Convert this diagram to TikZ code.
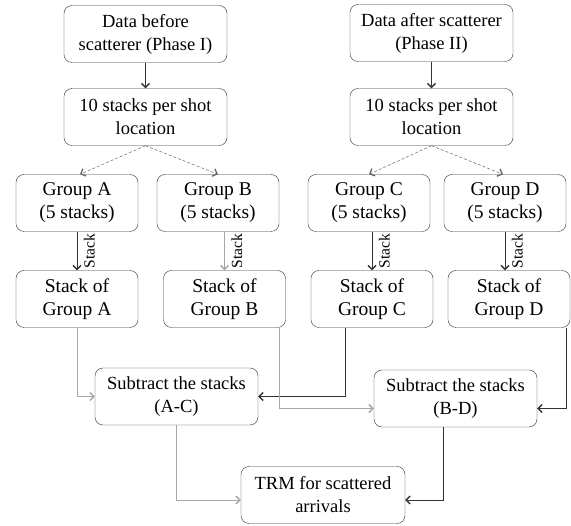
\documentclass[tikz,border=0pt]{standalone}
\usepackage{fontspec}
\setmainfont{Liberation Serif}
\usetikzlibrary{arrows.meta,calc}

\tikzset{
	box/.style={draw=black!80, rounded corners=8pt, align=center, minimum width=163pt, minimum height=57pt, inner sep=2pt, font=\fontsize{18.5}{23}\selectfont},
	grp/.style={box, minimum width=122pt, font=\fontsize{19.5}{23}\selectfont},
	arr/.style={draw=black!80, line width=0.7pt, -{Straight Barb[length=4pt,width=8pt,line width=1.3pt]}},
	split/.style={arr, draw=black!60, line width=0.5pt, densely dashed},
	faint/.style={draw=black!35},
	lbl/.style={font=\fontsize{15.5}{15.5}\selectfont, rotate=90, anchor=north, inner sep=6.5pt}
}

\begin{document}
\begin{tikzpicture}[x=1pt, y=-1pt]
			\useasboundingbox (0,0) rectangle (571,526);

			% Phase boxes
			\node[box] (before) at (145.5,34) {Data before\\scatterer (Phase I)};
			\node[box] (after) at (431.5,33) {Data after scatterer\\(Phase II)};
			\node[box] (tenL) at (145.5,117) {10 stacks per shot\\location};
			\node[box] (tenR) at (431.5,117) {10 stacks per shot\\location};

			% Groups
			\node[grp] (grpA) at (77,203) {Group A\\(5 stacks)};
			\node[grp] (grpB) at (218,203) {Group B\\(5 stacks)};
			\node[grp] (grpC) at (369,203) {Group C\\(5 stacks)};
			\node[grp] (grpD) at (505,203) {Group D\\(5 stacks)};

			% Stacked groups
			\node[grp] (stkA) at (77,299) {Stack of\\Group A};
			\node[grp] (stkB) at (224.5,299) {Stack of\\Group B};
			\node[grp] (stkC) at (372,299) {Stack of\\Group C};
			\node[grp] (stkD) at (509,299) {Stack of\\Group D};

			% Subtraction and TRM
			\node[box] (subAC) at (176.5,396.5) {Subtract the stacks\\(A-C)};
			\node[box] (subBD) at (455.5,398.5) {Subtract the stacks\\(B-D)};
			\node[box, minimum width=164pt] (trm) at (323,495) {TRM for scattered\\arrivals};

			% Arrows
			\draw[arr] (before) -- (tenL);
			\draw[arr] (after) -- (tenR);
			\draw[split] (tenL.south) -- ([xshift=3pt]grpA.north);
			\draw[split] (tenL.south) -- (grpB.north);
			\draw[split] (tenR.south) -- (grpC.north);
			\draw[split] (tenR.south) -- ([xshift=-2pt]grpD.north);

			\draw[arr] (grpA.south) -- (grpA.south |- stkA.north) node[lbl, midway] {Stack};
			\draw[arr, faint] (stkB.north |- grpB.south) -- (stkB.north) node[lbl, midway] {Stack};
			\draw[arr] (stkC.north |- grpC.south) -- (stkC.north) node[lbl, midway] {Stack};
			\draw[arr] (grpD.south) -- (grpD.south |- stkD.north) node[lbl, midway] {Stack};

			\draw[arr, faint] (stkA.south) |- (subAC.west);
			\draw[arr] ([xshift=-27pt]stkC.south) |- (subAC.east);
			\draw[arr, faint] ([xshift=55pt]stkB.south) |- ([yshift=-10pt]subBD.west);
			\draw[arr] ([xshift=57pt]stkD.south) |- ([yshift=-10pt]subBD.east);

			\draw[arr, faint] (subAC.south) |- ([yshift=-5pt]trm.west);
			\draw[arr] ([xshift=-12pt]subBD.south) |- ([yshift=-5pt]trm.east);
\end{tikzpicture}
\end{document}
